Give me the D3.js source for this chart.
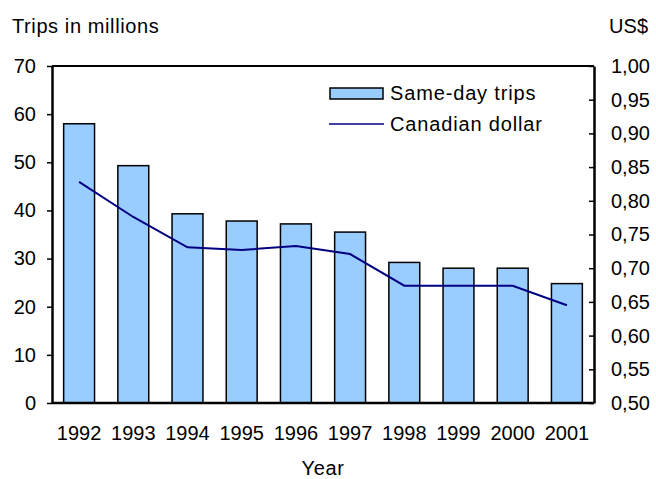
<!DOCTYPE html>
<html><head><meta charset="utf-8">
<script src="https://cdn.jsdelivr.net/npm/d3@7"></script>
<style>body{margin:0;background:#fff}svg text{font-family:"Liberation Sans",Arial,sans-serif;fill:#000}</style>
</head><body><svg id="c" width="656" height="479"></svg>
<script>
const years = ["1992","1993","1994","1995","1996","1997","1998","1999","2000","2001"];
const trips = [58.0, 49.3, 39.3, 37.8, 37.2, 35.5, 29.2, 28.0, 28.0, 24.8];
const cad = [0.828, 0.776, 0.731, 0.727, 0.733, 0.721, 0.674, 0.674, 0.674, 0.645];
const leftTicks = [0,10,20,30,40,50,60,70];
const rightTicks = [0.50,0.55,0.60,0.65,0.70,0.75,0.80,0.85,0.90,0.95,1.00];

const svg = d3.select("#c");
const L = 52, R = 594, T = 66, B = 403;
const fs = 20;
const ff = "Liberation Sans, Arial, sans-serif";
const x = d3.scaleBand().domain(years).range([L, R]).paddingInner(0.43).paddingOuter(0.215);
const y = d3.scaleLinear().domain([0,70]).range([B, T]);
const y2 = d3.scaleLinear().domain([0.5,1.0]).range([B, T]);

// bars
svg.append("g").selectAll("rect").data(years).join("rect")
  .attr("x", d => x(d)).attr("width", x.bandwidth())
  .attr("y", (d,i) => y(trips[i])).attr("height", (d,i) => B - y(trips[i]))
  .attr("fill", "#99ccff").attr("stroke", "#000").attr("stroke-width", 1.5);

// line
const line = d3.line().x(d => x(d[0]) + x.bandwidth()/2).y(d => y2(d[1]));
svg.append("path").datum(years.map((d,i)=>[d,cad[i]])).attr("d", line)
  .attr("fill","none").attr("stroke","#000080").attr("stroke-width",2);

// frame top
svg.append("line").attr("x1",L).attr("x2",R).attr("y1",T).attr("y2",T).attr("stroke","#000").attr("stroke-width",2);

// left axis
const la = svg.append("g").attr("transform",`translate(${L},0)`)
  .call(d3.axisLeft(y).tickValues(leftTicks).tickSize(5).tickPadding(11).tickSizeOuter(0));
la.select(".domain").attr("stroke-width",2.5);
la.selectAll(".tick line").attr("stroke-width",1.5);
la.selectAll("text").attr("font-size",fs).style("font-family",ff);

// right axis (ticks inward)
const ra = svg.append("g").attr("transform",`translate(${R},0)`)
  .call(d3.axisRight(y2).tickValues(rightTicks).tickSize(0).tickPadding(17).tickSizeOuter(0)
    .tickFormat(d => d3.format(".2f")(d).replace(".",",")));
ra.select(".domain").attr("stroke-width",2.5);
ra.selectAll(".tick").append("line").attr("x1",-5).attr("x2",0).attr("stroke","#000").attr("stroke-width",1.5);
ra.selectAll("text").attr("font-size",fs).style("font-family",ff);

// bottom axis
const ba = svg.append("g").attr("transform",`translate(0,${B})`)
  .call(d3.axisBottom(x).tickSize(0).tickPadding(23).tickSizeOuter(0));
ba.select(".domain").attr("stroke-width",2.5).attr("d",`M${L},0H${R}`);
ba.selectAll("text").attr("font-size",fs).style("font-family",ff);

// titles
const ls = "0.6px";
svg.append("text").attr("x",12).attr("y",33).attr("font-size",fs).style("letter-spacing",ls).text("Trips in millions");
svg.append("text").attr("x",648).attr("y",33).attr("font-size",fs).attr("text-anchor","end").text("US$");
svg.append("text").attr("x",(L+R)/2).attr("y",475).attr("font-size",fs).attr("text-anchor","middle").style("letter-spacing",ls).text("Year");

// legend
const lg = svg.append("g");
lg.append("rect").attr("x",330).attr("y",88).attr("width",53).attr("height",11)
  .attr("fill","#99ccff").attr("stroke","#000").attr("stroke-width",1.5);
lg.append("text").attr("x",390).attr("y",100).attr("font-size",fs).style("letter-spacing","0.85px").text("Same-day trips");
lg.append("line").attr("x1",329).attr("x2",384).attr("y1",124).attr("y2",124).attr("stroke","#000080").attr("stroke-width",1.5);
lg.append("text").attr("x",390).attr("y",131).attr("font-size",fs).style("letter-spacing","0.85px").text("Canadian dollar");
</script></body></html>
